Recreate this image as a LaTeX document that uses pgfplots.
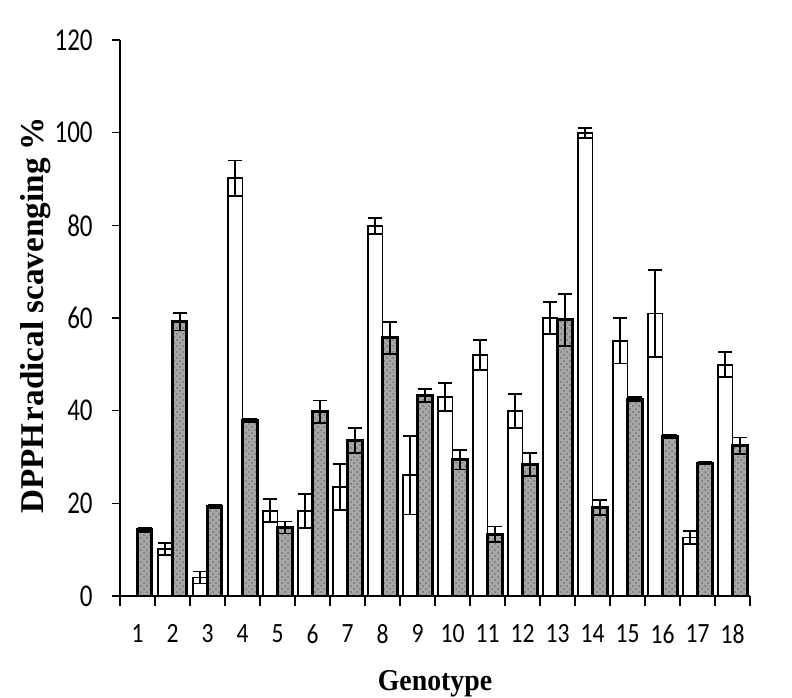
\documentclass[border=0pt]{standalone}
\usepackage{pgfplots}
\pgfplotsset{compat=1.18}
\usepackage{fontspec}
\setmainfont{Liberation Serif}
\newfontfamily\carlito{Carlito}
\usetikzlibrary{patterns}

\begin{document}
\begin{tikzpicture}
\useasboundingbox (-60pt,-50.5pt) rectangle (336pt,298pt);
\begin{axis}[
  at={(0,0)}, anchor=south west,
  scale only axis,
  width=315pt, height=278pt,
  xmin=0.5, xmax=18.5, ymin=0, ymax=120,
  axis x line*=bottom, axis y line*=left,
  axis line style={line width=0.8pt, black},
  ybar=0pt, bar width=7.25pt,
  xtick={1,...,18},
  minor xtick={0.5,1.5,...,18.5},
  ytick={0,20,...,120},
  tick align=outside,
  major tick length=4pt, minor tick length=5pt,
  major x tick style={draw=none},
  tick style={line width=0.8pt, black},
  /pgf/number format/assume math mode=true,
  xticklabel={\scalebox{1}[1.18]{\pgfmathprintnumber{\tick}}},
  yticklabel={\scalebox{1}[1.27]{\pgfmathprintnumber{\tick}}},
  xticklabel style={font=\carlito\fontsize{11.8}{12}\selectfont, anchor=north, inner sep=0pt, yshift=-10pt},
  yticklabel style={font=\carlito\fontsize{12.5}{13}\selectfont, anchor=east, inner sep=0pt, xshift=-9.5pt},
  xlabel={\scalebox{1}[1.09]{Genotype}},
  ylabel={DPPH\kern1pt radical scavenging \%},
  every axis x label/.style={at={(rel axis cs:0.5,0)}, anchor=base, yshift=-47pt, font=\bfseries\fontsize{13.9}{14}\selectfont},
  every axis y label/.style={at={(rel axis cs:0,0.505)}, anchor=base, rotate=90, yshift=38.3pt, font=\bfseries\fontsize{16.6}{17}\selectfont},
  error bars/y dir=both, error bars/y explicit,
  error bars/error bar style={line width=0.9pt, black},
  error bars/error mark options={rotate=90, mark size=3.6pt, line width=0.9pt, black},
]
\addplot[draw=black, line width=0.8pt, fill=white] coordinates {
 (2,10.1) +- (0,1.3)
 (3,4.0) +- (0,1.3)
 (4,90.2) +- (0,3.8)
 (5,18.4) +- (0,2.5)
 (6,18.4) +- (0,3.7)
 (7,23.5) +- (0,5.0)
 (8,79.9) +- (0,1.7)
 (9,26.1) +- (0,8.5)
 (10,42.9) +- (0,3.0)
 (11,52.0) +- (0,3.3)
 (12,39.9) +- (0,3.7)
 (13,60.0) +- (0,3.4)
 (14,99.9) +- (0,1.1)
 (15,55.1) +- (0,4.9)
 (16,61.0) +- (0,9.4)
 (17,12.6) +- (0,1.4)
 (18,49.9) +- (0,2.7)
};
\addplot[draw=black, line width=1.5pt, fill=black!35, postaction={pattern=crosshatch dots, pattern color=black!55}] coordinates {
 (1,14.3) +- (0,0.4)
 (2,59.2) +- (0,1.9)
 (3,19.3) +- (0,0.4)
 (4,37.9) +- (0,0.4)
 (5,14.8) +- (0,1.3)
 (6,39.8) +- (0,2.4)
 (7,33.5) +- (0,2.7)
 (8,55.7) +- (0,3.4)
 (9,43.2) +- (0,1.4)
 (10,29.4) +- (0,2.1)
 (11,13.3) +- (0,1.7)
 (12,28.4) +- (0,2.5)
 (13,59.6) +- (0,5.6)
 (14,19.1) +- (0,1.7)
 (15,42.5) +- (0,0.4)
 (16,34.4) +- (0,0.4)
 (17,28.7) +- (0,0.3)
 (18,32.4) +- (0,1.8)
};
\end{axis}
\end{tikzpicture}
\end{document}
